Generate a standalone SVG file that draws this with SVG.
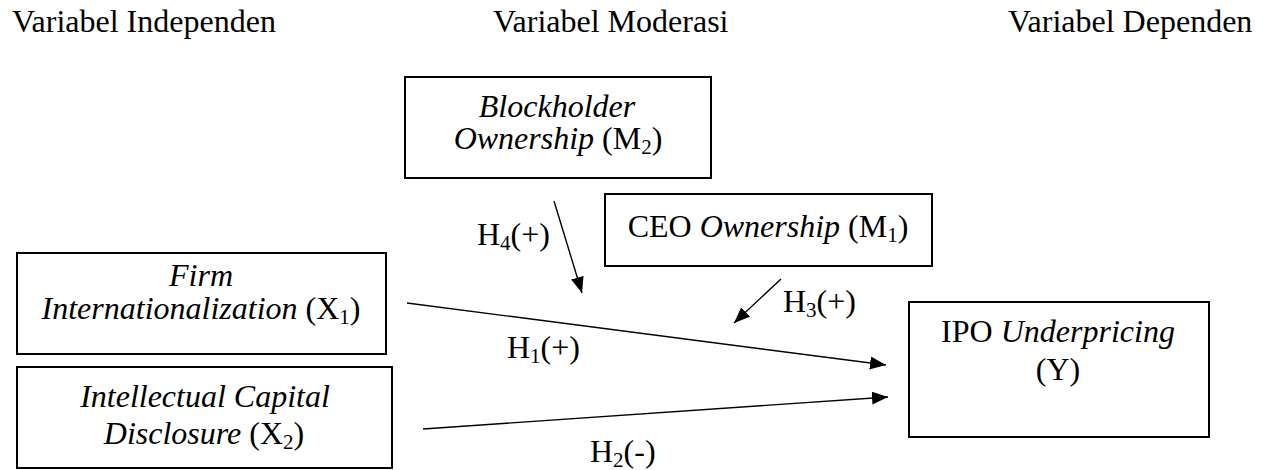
<svg xmlns="http://www.w3.org/2000/svg" width="1265" height="470" viewBox="0 0 1265 470">
<style>
text { font-family: "Liberation Serif", "Times New Roman", serif; font-size: 32px; fill: #000; }
.c { text-anchor: middle; }
.i { font-style: italic; }
.sub { font-size: 21px; }
.box { fill: #fff; stroke: #000; stroke-width: 2; }
.conn { stroke: #000; stroke-width: 1.4; fill: none; marker-end: url(#ah); }
</style>
<defs>
<marker id="ah" markerUnits="userSpaceOnUse" markerWidth="18" markerHeight="14" refX="16" refY="6.5" orient="auto">
<path d="M0,0 L16,6.5 L0,13 Z" fill="#000"/>
</marker>
</defs>
<rect width="1265" height="470" fill="#fff"/>
<g id="titles">
<text x="12" y="32">Variabel Independen</text>
<text x="493" y="32">Variabel Moderasi</text>
<text x="1008" y="32">Variabel Dependen</text>
</g>
<g id="node-m2">
<rect class="box" x="405" y="77" width="306" height="101"/>
<text class="c i" x="557" y="117">Blockholder</text>
<text class="c" x="558" y="149"><tspan class="i">Ownership</tspan> (M<tspan class="sub" dy="5">2</tspan><tspan dy="-5">)</tspan></text>
</g>
<g id="node-m1">
<rect class="box" x="605" y="194" width="327" height="72"/>
<text class="c" x="768" y="237">CEO <tspan class="i">Ownership</tspan> (M<tspan class="sub" dy="5">1</tspan><tspan dy="-5">)</tspan></text>
</g>
<g id="node-x1">
<rect class="box" x="17" y="253" width="369" height="101"/>
<text class="c i" x="201" y="286">Firm</text>
<text class="c" x="201" y="319"><tspan class="i">Internationalization</tspan> (X<tspan class="sub" dy="5">1</tspan><tspan dy="-5">)</tspan></text>
</g>
<g id="node-x2">
<rect class="box" x="17" y="367" width="375" height="101"/>
<text class="c i" x="205" y="407">Intellectual Capital</text>
<text class="c" x="204" y="444"><tspan class="i">Disclosure</tspan> (X<tspan class="sub" dy="5">2</tspan><tspan dy="-5">)</tspan></text>
</g>
<g id="node-y">
<rect class="box" x="909" y="302" width="300" height="135"/>
<text class="c" x="1058" y="342">IPO <tspan class="i">Underpricing</tspan></text>
<text class="c" x="1058" y="380">(Y)</text>
</g>
<g id="connectors">
<line class="conn" x1="407" y1="303" x2="886" y2="365"/>
<line class="conn" x1="423" y1="429" x2="888" y2="397"/>
<line class="conn" x1="781" y1="279" x2="734" y2="323"/>
<line class="conn" x1="554" y1="201" x2="582" y2="293"/>
</g>
<g id="labels">
<text x="477" y="245">H<tspan class="sub" dy="5">4</tspan><tspan dy="-5">(+)</tspan></text>
<text x="783" y="312">H<tspan class="sub" dy="5">3</tspan><tspan dy="-5">(+)</tspan></text>
<text x="507" y="358">H<tspan class="sub" dy="5">1</tspan><tspan dy="-5">(+)</tspan></text>
<text x="590" y="462">H<tspan class="sub" dy="5">2</tspan><tspan dy="-5">(-)</tspan></text>
</g>
</svg>
